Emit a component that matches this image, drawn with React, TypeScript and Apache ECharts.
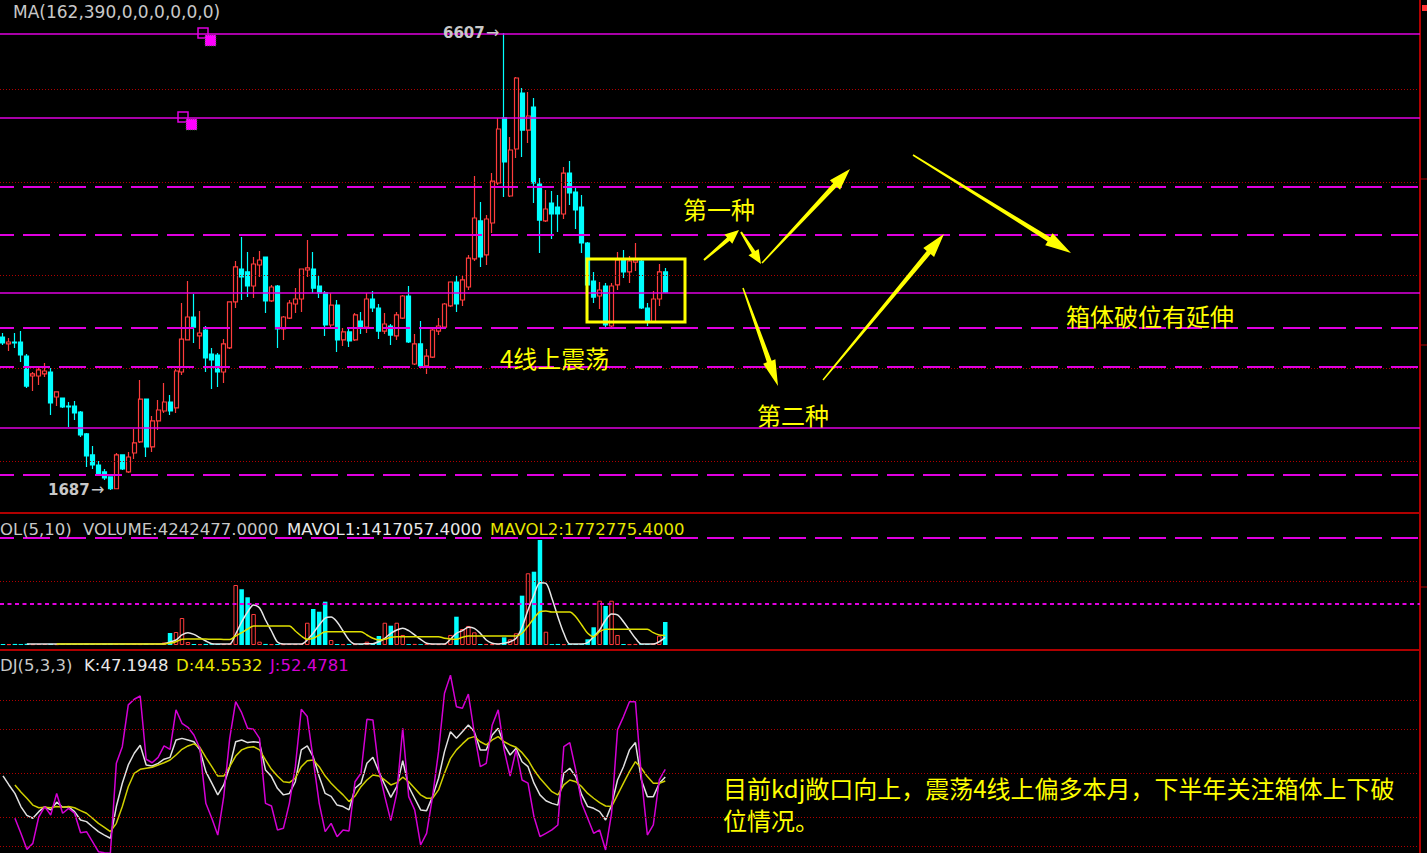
import React, { useEffect, useRef } from "react";
import * as echarts from "echarts";

// ---------- data ----------
const SLOT_COUNT = 238;
const categories: string[] = Array.from({ length: SLOT_COUNT }, (_, i) => String(i + 1));

// [open, close, low, high]
const candles: number[][] = [
  [3334, 3270, 3248, 3377], [3259, 3280, 3183, 3323], [3280, 3270, 3216, 3377], [3280, 3140, 3065, 3399],
  [3129, 2806, 2785, 3151], [2914, 2936, 2753, 2957], [2914, 2979, 2817, 3000], [2936, 2968, 2903, 3054],
  [2957, 2624, 2494, 3000], [2688, 2742, 2591, 2745], [2677, 2580, 2570, 2680], [2591, 2580, 2365, 2634],
  [2591, 2516, 2440, 2645], [2526, 2279, 2257, 2537], [2290, 2053, 1934, 2300], [2064, 1956, 1913, 2161],
  [1956, 1859, 1838, 1999], [1881, 1816, 1794, 1913], [1827, 1700, 1687, 1830], [1700, 2064, 1695, 2085],
  [2064, 1913, 1902, 2070], [1881, 2042, 1870, 2096], [2085, 2193, 2021, 2344], [2204, 2666, 2193, 2871],
  [2666, 2150, 2042, 2670], [2150, 2430, 2096, 2484], [2430, 2548, 2333, 2656], [2537, 2634, 2516, 2839],
  [2634, 2537, 2494, 2709], [2570, 2968, 2516, 2990], [2957, 3312, 2925, 3700], [3302, 3549, 3295, 3937],
  [3549, 3441, 3270, 3797], [3345, 3377, 3205, 3614], [3409, 3108, 2957, 3452], [3151, 3086, 2774, 3216],
  [3140, 2957, 2796, 3162], [2957, 3259, 2839, 3312], [3216, 3711, 3205, 3715], [3711, 4088, 3646, 4152],
  [4066, 3980, 3732, 4411], [4034, 3883, 3764, 4249], [3883, 4120, 3754, 4195], [4109, 4163, 3980, 4260],
  [4195, 3722, 3592, 4200], [3722, 3872, 3711, 3894], [3883, 3420, 3216, 3894], [3420, 3549, 3302, 3560],
  [3538, 3700, 3528, 3732], [3689, 3743, 3592, 3861], [3743, 4066, 3603, 4070], [4055, 4077, 3980, 4378],
  [4066, 3861, 3808, 4249], [3883, 3808, 3754, 3991], [3808, 3463, 3345, 3829], [3463, 3678, 3441, 3808],
  [3678, 3302, 3172, 3732], [3302, 3388, 3237, 3431], [3388, 3291, 3226, 3431], [3302, 3571, 3291, 3592],
  [3506, 3441, 3366, 3603], [3441, 3743, 3377, 3808], [3743, 3646, 3603, 3829], [3646, 3398, 3312, 3689],
  [3398, 3474, 3366, 3592], [3452, 3355, 3248, 3474], [3345, 3571, 3302, 3603], [3538, 3775, 3528, 3786],
  [3775, 3280, 3270, 3883], [3043, 3259, 3032, 3366], [3259, 3022, 3011, 3506], [3022, 3129, 2936, 3205],
  [3118, 3409, 3108, 3420], [3398, 3452, 3355, 3538], [3441, 3689, 3441, 3700], [3668, 3926, 3657, 3930],
  [3926, 3689, 3603, 3991], [3732, 3948, 3668, 3991], [3872, 4184, 3840, 4217], [4174, 4615, 4152, 5067],
  [4583, 4195, 4088, 4787], [4217, 4604, 4109, 4647], [4561, 5013, 4454, 5099], [4992, 5573, 4970, 5692],
  [5692, 5218, 4841, 6607], [4852, 5347, 4841, 5487], [5358, 6122, 5261, 6133], [5961, 5562, 5272, 6015],
  [5562, 5713, 5422, 5972], [5810, 4992, 4776, 5907], [4981, 4593, 4238, 5046], [4583, 4712, 4572, 4916],
  [4776, 4658, 4389, 4906], [4733, 4658, 4464, 4863], [4658, 5099, 4604, 5164], [5099, 4884, 4755, 5229],
  [4895, 4701, 4497, 4949], [4733, 4346, 4238, 4863], [4346, 3894, 3528, 4357], [3937, 3764, 3700, 4034],
  [3775, 3840, 3635, 3926], [3883, 3463, 3441, 3915], [3452, 3883, 3441, 3915], [3894, 4163, 3840, 4249],
  [4163, 4034, 3969, 4271], [4034, 4152, 3915, 4206], [4141, 4163, 4044, 4346], [4152, 3646, 3635, 4163],
  [3646, 3506, 3452, 3700], [3495, 3743, 3485, 3829], [3743, 4034, 3668, 4120], [4034, 3818, 3808, 4077],
];

// volume in units of 10,000
const volumes: number[] = [
  18, 15, 20, 17, 22, 16, 19, 18, 21, 15,
  17, 20, 16, 18, 22, 19, 15, 21, 24, 18,
  16, 19, 20, 17, 23, 18, 20, 46, 221, 240,
  498, 55, 18, 16, 20, 15, 19, 17, 22, 1107,
  1028, 880, 572, 61, 20, 16, 18, 15, 21, 17,
  19, 411, 664, 614, 799, 92, 18, 15, 20, 16,
  19, 61, 20, 166, 411, 356, 411, 185, 17, 20,
  15, 18, 21, 16, 19, 185, 522, 295, 351, 234,
  18, 20, 16, 19, 142, 105, 216, 910, 1323, 1352,
  1937, 245, 17, 20, 16, 19, 18, 21, 105, 327,
  817, 720, 817, 185, 18, 16, 20, 17, 19, 28,
  172, 424.2,
];

const mavol1: (number | null)[] = [
  null, null, null, null, 18, 18, 18, 18, 18, 18,
  18, 18, 18, 18, 18, 18, 18, 18, 18, 18,
  18, 18, 18, 18, 18, 18, 18, 24, 55, 92,
  185, 227, 197, 135, 74, 25, 18, 18, 18, 203,
  424, 609, 738, 683, 461, 258, 55, 18, 18, 18,
  18, 92, 221, 369, 498, 517, 424, 258, 92, 18,
  18, 24, 25, 61, 124, 216, 277, 308, 264, 185,
  105, 31, 18, 18, 18, 105, 216, 264, 327, 308,
  216, 92, 31, 18, 31, 61, 124, 327, 646, 923,
  1149, 1138, 862, 522, 216, 18, 18, 18, 42, 153,
  277, 461, 572, 554, 430, 277, 124, 18, 18, 18,
  61, 141.7,
];

const mavol2: (number | null)[] = [
  null, null, null, null, null, null, null, null, null, 18,
  18, 18, 18, 18, 18, 18, 18, 18, 18, 18,
  18, 18, 18, 18, 18, 18, 18, 20, 31, 61,
  105, 111, 111, 111, 109, 107, 105, 103, 100, 166,
  227, 295, 351, 351, 351, 351, 351, 351, 351, 258,
  166, 105, 124, 185, 245, 245, 245, 245, 245, 245,
  245, 185, 124, 92, 105, 142, 153, 153, 153, 153,
  153, 153, 153, 153, 124, 111, 105, 142, 166, 166,
  166, 166, 166, 166, 166, 166, 166, 216, 351, 493,
  614, 627, 609, 609, 609, 609, 522, 369, 216, 153,
  245, 290, 290, 290, 290, 290, 290, 290, 290, 227,
  185, 177.3,
];

const kValues: number[] = [
  48, 41.8, 36, 27, 21, 19, 23.5, 27, 24.7, 30,
  26.5, 26.9, 23.5, 17.8, 16.7, 13.2, 9.8, 7.5, 5.3, 27,
  43, 55.5, 63.5, 69, 55.5, 54.8, 56.6, 59.4, 60.7, 72.6,
  73.7, 72.6, 71.4, 65.8, 50.9, 43, 35, 41.8, 54.3, 71.4,
  72.6, 70.8, 71.4, 70.8, 52, 47.5, 39.5, 35, 36, 44,
  65.8, 68.5, 61, 47.5, 36, 34, 28, 27, 24.7, 39.5,
  43, 56.6, 60.7, 50.9, 41.8, 33.3, 40.6, 58.4, 40.6, 32.7,
  24.7, 24.2, 33.8, 46.4, 64.6, 78.3, 73.7, 78.3, 82.9, 78.3,
  65.8, 65.8, 76, 80.6, 69.2, 62.3, 66.9, 57.7, 54.3, 43,
  35, 31, 29.2, 28, 49.8, 53.2, 47.5, 35, 27, 25.8,
  23.5, 17.8, 28, 45.2, 54.3, 65.8, 70.8, 45.2, 33.8, 33.8,
  43, 47.19,
];

const dValues: (number | null)[] = [
  null, null, 41.8, 37, 32.7, 28, 26.2, 26.5, 26.2, 27,
  26.5, 27, 26.2, 24.2, 22.4, 19, 15.5, 12.8, 9.8, 15.5,
  27, 40.6, 49.8, 52.5, 53.2, 53.9, 55.5, 57, 58.9, 62.3,
  66.2, 68.5, 69.9, 67.6, 60.7, 54.3, 47.9, 47.9, 54.3, 61.6,
  65.8, 67.4, 68, 65.8, 58.9, 52.5, 47.9, 44, 43.4, 46.4,
  54.3, 58.4, 58.9, 54.3, 47.9, 43, 38.8, 35, 30.4, 34.2,
  40.6, 45.2, 48.6, 47.9, 45.2, 41.8, 43.4, 47.1, 44, 39.5,
  35, 32.7, 32.7, 38.4, 49.8, 60, 65.8, 69.9, 73.7, 74.9,
  71.4, 69.2, 72.6, 74.9, 71.4, 69.2, 67.6, 63.9, 58.9, 52,
  46.4, 41.8, 37.2, 35, 41.8, 45.2, 44, 40.6, 36, 32.7,
  29.7, 27.4, 27, 35, 43, 50.9, 57.7, 53.2, 47.5, 43,
  43, 44.55,
];

const jValues: (number | null)[] = [
  null, null, 19, 8.7, -2.3, 1.8, 20, 27, 21.2, 36,
  22.4, 25.8, 22.4, 9.1, 9.8, 3, -3.9, -4.6, -5, 56.6,
  68, 96.6, 100.5, 102.7, 59.4, 57, 60.7, 68.5, 66.2, 93.2,
  84, 81.3, 76, 66.9, 29.2, 19, 7.5, 33.8, 73.7, 98.8,
  91.3, 80.6, 79.9, 73.7, 29.2, 27.4, 11, 12.1, 29.2, 54.3,
  93.6, 88.6, 58.9, 29.2, 9.8, 15.5, 6.4, 11, 10.3, 44,
  49.8, 86.8, 86.3, 52, 33.8, 17.4, 36, 80.6, 33.8, 24.7,
  0.7, 8.7, 33.8, 64.6, 104.6, 117, 95.4, 94.3, 104, 77.2,
  54.3, 56.6, 82.9, 93.2, 65.8, 47.9, 65.8, 45.2, 43, 20,
  6.4, 8.7, 11, 14.4, 68, 70.8, 52, 29.2, 19, 8.7,
  11, -2.7, 22.4, 79.5, 88.6, 98.8, 98.8, 47.5, 7.5, 14.4,
  45.2, 52.48,
];

// horizontal reference levels
const solidLevels: number[] = [6600, 5695, 3805, 2352];
const dashedLevels: number[] = [4952, 4437, 3434, 3014, 1848];
const priceGridLevels: number[] = [2000, 3000, 4000, 5000, 6000];
const volDottedLevels: number[] = [1181];
const volShortDashLevels: number[] = [756];
const volLongDashLevels: number[] = [1983];
const kdjGridLevels: number[] = [0, 20, 50, 80, 100];

// ---------- styles ----------
const RED = "#ff3c3c";
const CYAN = "#00ffff";
const MAGENTA = "#e000e0";
const DOT_RED = "#b00000";
const YELLOW = "#ffff00";
const GRAY = "#c8c8c8";

function arrowPoints(x1: number, y1: number, x2: number, y2: number, headLen: number, headW: number, w0: number, w1: number) {
  const dx = x2 - x1, dy = y2 - y1;
  const L = Math.hypot(dx, dy);
  const ux = dx / L, uy = dy / L;
  const nx = -uy, ny = ux;
  const bx = x2 - ux * headLen, by = y2 - uy * headLen;
  return [
    [x1 + (nx * w0) / 2, y1 + (ny * w0) / 2],
    [bx + (nx * w1) / 2, by + (ny * w1) / 2],
    [bx + (nx * headW) / 2, by + (ny * headW) / 2],
    [x2, y2],
    [bx - (nx * headW) / 2, by - (ny * headW) / 2],
    [bx - (nx * w1) / 2, by - (ny * w1) / 2],
    [x1 - (nx * w0) / 2, y1 - (ny * w0) / 2],
  ];
}

function txt(text: string, x: number, y: number, fill: string, fontSize: number, fontFamily: string, fontWeight: string = "normal", align: string = "left") {
  return {
    type: "text",
    x,
    y,
    z: 100,
    silent: true,
    style: {
      text,
      fill,
      fontSize,
      fontFamily,
      fontWeight,
      align,
      verticalAlign: "middle",
      textAlign: align,
      textVerticalAlign: "middle",
    },
  };
}

export default function App() {
  const ref = useRef<HTMLDivElement>(null);

  useEffect(() => {
    if (!ref.current) return;
    const chart = echarts.init(ref.current, undefined, { renderer: "svg" });

    const lineLevel = (v: number, color: string, width: number, type: any, dashOffset = 0) => ({
      yAxis: v,
      lineStyle: { color, width, type, dashOffset },
    });

    const volData = volumes.map((v, i) => {
      const c = candles[i];
      const up = c[1] >= c[0];
      return {
        value: v,
        itemStyle: up
          ? { color: "#000000", borderColor: RED, borderWidth: 1 }
          : { color: CYAN, borderColor: CYAN, borderWidth: 0 },
      };
    });

    const cjk = "'Noto Sans CJK SC', 'Noto Sans', sans-serif";
    const lat = "'DejaVu Sans', sans-serif";

    const arrows = [
      arrowPoints(704, 260, 739, 230, 14, 12, 2, 4),
      arrowPoints(741, 232, 761, 264, 14, 12, 2, 4),
      arrowPoints(762, 263, 850, 169, 22, 14, 1.5, 5),
      arrowPoints(913, 155, 1071, 253, 26, 14, 1.5, 5),
      arrowPoints(743, 288, 778, 386, 26, 13, 1.5, 5),
      arrowPoints(823, 380, 944, 234, 24, 14, 1.5, 5),
    ];

    const graphic: any[] = [
      // separators and borders
      { type: "line", shape: { x1: 0, y1: 513, x2: 1420, y2: 513 }, style: { stroke: "#b00000", lineWidth: 2 }, silent: true },
      { type: "line", shape: { x1: 0, y1: 650, x2: 1420, y2: 650 }, style: { stroke: "#b00000", lineWidth: 2 }, silent: true },
      { type: "line", shape: { x1: 1420, y1: 0, x2: 1420, y2: 853 }, style: { stroke: "#b00000", lineWidth: 2 }, silent: true },
      { type: "line", shape: { x1: 1420, y1: 179, x2: 1427, y2: 179 }, style: { stroke: "#b00000", lineWidth: 1 }, silent: true },
      { type: "line", shape: { x1: 1420, y1: 345, x2: 1427, y2: 345 }, style: { stroke: "#b00000", lineWidth: 1 }, silent: true },
      { type: "line", shape: { x1: 1420, y1: 587, x2: 1427, y2: 587 }, style: { stroke: "#b00000", lineWidth: 1 }, silent: true },
      { type: "rect", shape: { x: 1422, y: 5, width: 5, height: 6 }, style: { fill: "#ff3333" }, silent: true },
      // squares
      { type: "rect", shape: { x: 198, y: 28, width: 10, height: 10 }, style: { fill: "none", stroke: MAGENTA, lineWidth: 1.5 }, silent: true },
      { type: "rect", shape: { x: 205, y: 35, width: 11, height: 11 }, style: { fill: "#ff00ff", stroke: "#2a6a2a", lineWidth: 0.8, lineDash: [1, 1] }, silent: true },
      { type: "rect", shape: { x: 178, y: 112, width: 10, height: 10 }, style: { fill: "none", stroke: MAGENTA, lineWidth: 1.5 }, silent: true },
      { type: "rect", shape: { x: 186, y: 119, width: 11, height: 11 }, style: { fill: "#ff00ff", stroke: "#2a6a2a", lineWidth: 0.8, lineDash: [1, 1] }, silent: true },
      // box
      { type: "rect", shape: { x: 587, y: 259, width: 98, height: 63 }, style: { fill: "none", stroke: YELLOW, lineWidth: 3 }, silent: true, z: 90 },
      ...arrows.map((pts) => ({ type: "polygon", shape: { points: pts }, style: { fill: YELLOW }, silent: true, z: 90 })),
      // titles
      txt("MA(162,390,0,0,0,0,0,0)", 13, 12, GRAY, 17, lat),
      txt("6607", 443, 33, GRAY, 15, lat, "bold"),
      txt("→", 486, 32, GRAY, 16, lat),
      txt("1687", 48, 490, GRAY, 15, lat, "bold"),
      txt("→", 91, 489, GRAY, 16, lat),
      txt("OL(5,10)", 0, 529, GRAY, 16.5, lat),
      txt("VOLUME:4242477.0000", 83, 529, GRAY, 16.5, lat),
      txt("MAVOL1:1417057.4000", 287, 529, "#e8e8e8", 16.5, lat),
      txt("MAVOL2:1772775.4000", 490, 529, "#e6e600", 16.5, lat),
      txt("DJ(5,3,3)", 0, 665, GRAY, 16.5, lat),
      txt("K:47.1948", 84, 665, "#e8e8e8", 16.5, lat),
      txt("D:44.5532", 176, 665, "#e6e600", 16.5, lat),
      txt("J:52.4781", 270, 665, "#d400d4", 16.5, lat),
      // annotations
      txt("第一种", 683, 208, YELLOW, 24, cjk),
      txt("4线上震荡", 500, 357, YELLOW, 24, cjk),
      txt("第二种", 757, 414, YELLOW, 24, cjk),
      txt("箱体破位有延伸", 1066, 315, YELLOW, 24, cjk),
      txt("目前kdj敞口向上，震荡4线上偏多本月，下半年关注箱体上下破", 723, 787, YELLOW, 24, cjk),
      txt("位情况。", 723, 819, YELLOW, 24, cjk),
    ];

    const hiddenX = (gridIndex: number) => ({
      type: "category",
      gridIndex,
      data: categories,
      boundaryGap: true,
      show: false,
    });
    const hiddenY = (gridIndex: number, min: number, max: number) => ({
      type: "value",
      gridIndex,
      min,
      max,
      show: false,
      splitLine: { show: false },
    });

    const option: any = {
      animation: false,
      backgroundColor: "#000000",
      grid: [
        { left: 0, top: 0, width: 1420, height: 513 },
        { left: 0, top: 513, width: 1420, height: 132 },
        { left: 0, top: 650, width: 1420, height: 203 },
      ],
      xAxis: [hiddenX(0), hiddenX(1), hiddenX(2)],
      yAxis: [hiddenY(0, 1439, 6962), hiddenY(1, 0, 2435), hiddenY(2, -4.8, 134.2)],
      graphic,
      series: [
        {
          type: "candlestick",
          xAxisIndex: 0,
          yAxisIndex: 0,
          data: candles,
          barWidth: 4.5,
          itemStyle: {
            color: "#000000",
            color0: CYAN,
            borderColor: RED,
            borderColor0: CYAN,
            borderWidth: 1.2,
          },
          markLine: {
            silent: true,
            symbol: ["none", "none"],
            label: { show: false },
            data: [
              ...priceGridLevels.map((v) => lineLevel(v, DOT_RED, 1, [1, 2])),
              ...dashedLevels.map((v) => lineLevel(v, MAGENTA, 2, [27, 9], 13)),
              ...solidLevels.map((v) => lineLevel(v, MAGENTA, 1.5, "solid")),
            ],
          },
        },
        {
          type: "bar",
          xAxisIndex: 1,
          yAxisIndex: 1,
          data: volData,
          barWidth: 4.5,
          markLine: {
            silent: true,
            symbol: ["none", "none"],
            label: { show: false },
            data: [
              ...volDottedLevels.map((v) => lineLevel(v, DOT_RED, 1, [1, 2])),
              ...volShortDashLevels.map((v) => lineLevel(v, MAGENTA, 2, [4, 3.5])),
              ...volLongDashLevels.map((v) => lineLevel(v, MAGENTA, 2, [27, 9], 13)),
            ],
          },
        },
        {
          type: "line",
          xAxisIndex: 1,
          yAxisIndex: 1,
          data: mavol1,
          showSymbol: false,
          smooth: 0.3,
          lineStyle: { color: "#e6e6e6", width: 1.5 },
        },
        {
          type: "line",
          xAxisIndex: 1,
          yAxisIndex: 1,
          data: mavol2,
          showSymbol: false,
          smooth: 0.3,
          lineStyle: { color: "#e0e000", width: 1.5 },
        },
        {
          type: "line",
          xAxisIndex: 2,
          yAxisIndex: 2,
          data: kValues,
          showSymbol: false,
          lineStyle: { color: "#e0e0e0", width: 1.5 },
          markLine: {
            silent: true,
            symbol: ["none", "none"],
            label: { show: false },
            data: kdjGridLevels.map((v) => lineLevel(v, DOT_RED, 1, [1, 2])),
          },
        },
        {
          type: "line",
          xAxisIndex: 2,
          yAxisIndex: 2,
          data: dValues,
          showSymbol: false,
          lineStyle: { color: "#d0d000", width: 1.5 },
        },
        {
          type: "line",
          xAxisIndex: 2,
          yAxisIndex: 2,
          data: jValues,
          showSymbol: false,
          lineStyle: { color: "#d400d4", width: 1.5 },
        },
      ],
    };

    chart.setOption(option);
    return () => chart.dispose();
  }, []);

  return (
    <div
      ref={ref}
      style={{ position: "fixed", left: 0, top: 0, width: 1427, height: 853, background: "#000" }}
    />
  );
}
